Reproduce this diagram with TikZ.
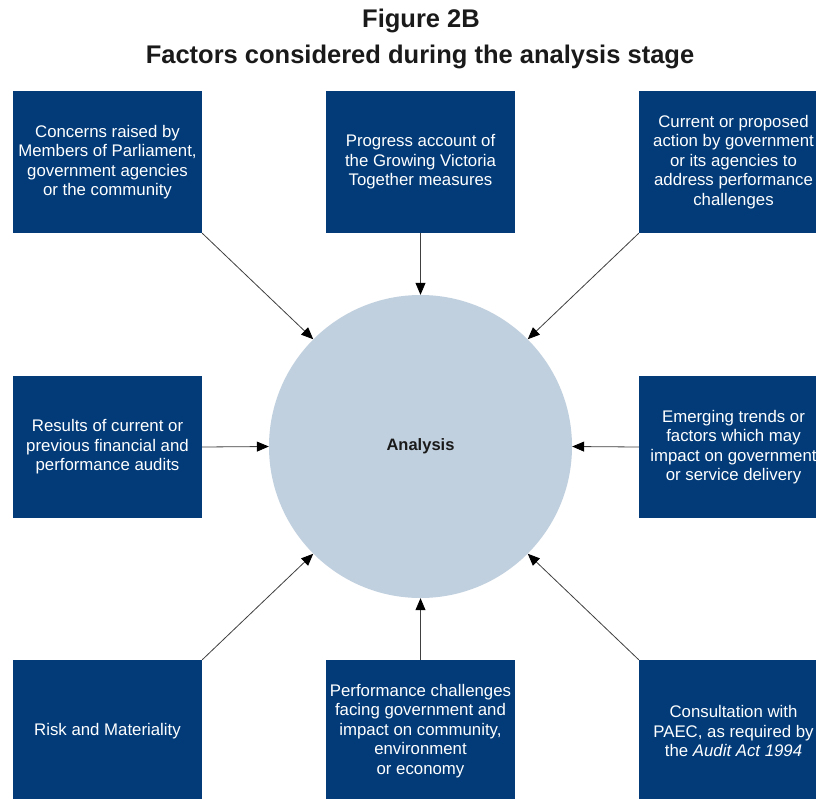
\documentclass[tikz,border=0pt]{standalone}
\usepackage{fontspec}
\setmainfont{Liberation Sans}
\usetikzlibrary{arrows.meta}
\definecolor{boxblue}{HTML}{023B78}
\definecolor{circfill}{HTML}{C1D0DF}
\definecolor{titlecol}{HTML}{1A1A1A}
\begin{document}
\begin{tikzpicture}[x=1pt,y=-1pt,
  factor/.style={rectangle, fill=boxblue, draw=none, minimum width=189pt, minimum height=142pt,
    inner sep=0pt, text=white, align=center, font=\fontsize{16.8}{19.5}\selectfont},
  conn/.style={draw={rgb,1:red,0.25;green,0.25;blue,0.25}, line width=0.8pt,
    -{Triangle[length=12pt,width=10pt,color=black]}},
  titletext/.style={anchor=base, text=titlecol, font=\fontsize{25.5}{30}\selectfont\bfseries, inner sep=0pt}]
\clip (0,0) rectangle (816,798);
\fill[white] (0,0) rectangle (816,798);
\node[titletext] (t1) at (421,27.5) {Figure 2B};
\node[titletext] (t2) at (420,63) {Factors considered during the analysis stage};
\node[circle, fill=circfill, minimum size=303pt, inner sep=0pt,
  font=\fontsize{16.5}{19}\selectfont\bfseries, text=titlecol] (c) at (420.5,446.5) {Analysis};
\node[factor] (tl) at (107.5,162) {Concerns raised by\\Members of Parliament,\\government agencies\\or the community};
\node[factor] (tm) at (420.5,162) {Progress account of\\the Growing Victoria\\Together measures};
\node[factor] (tr) at (733.5,162) {Current or proposed\\action by government\\or its agencies to\\address performance\\challenges};
\node[factor] (ml) at (107.5,447) {Results of current or\\previous financial and\\performance audits};
\node[factor] (mr) at (733.5,447) {Emerging trends or\\factors which may\\impact on government\\or service delivery};
\node[factor] (bl) at (107.5,731) {Risk and Materiality};
\node[factor] (bm) at (420.5,731) {Performance challenges\\facing government and\\impact on community,\\environment\\or economy};
\node[factor] (br) at (733.5,731) {Consultation with\\PAEC, as required by\\the \textit{Audit Act 1994}};
\draw[conn] (tl.south east) -- (c.135);
\draw[conn] (tm.south) -- (c.north);
\draw[conn] (tr.south west) -- (c.45);
\draw[conn] (ml.east) -- (c.west);
\draw[conn] (mr.west) -- (c.east);
\draw[conn] (bl.north east) -- (c.225);
\draw[conn] (bm.north) -- (c.south);
\draw[conn] (br.north west) -- (c.315);
\end{tikzpicture}
\end{document}
